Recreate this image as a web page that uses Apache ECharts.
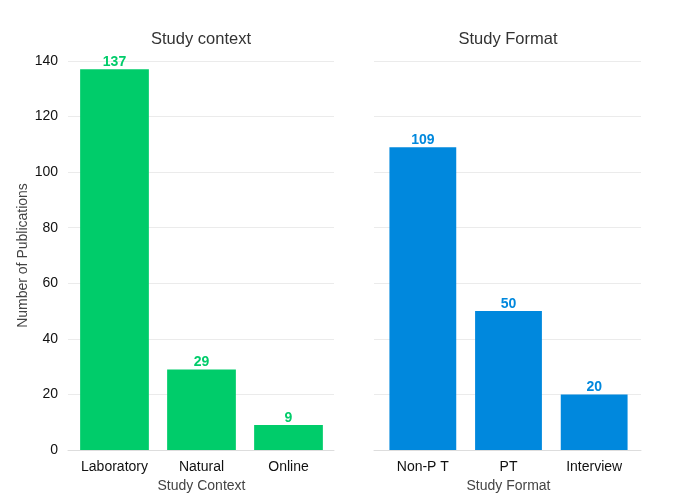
<!DOCTYPE html>
<html>
<head>
  <meta charset="utf-8">
  <title>Study context / format</title>
  <script src="https://cdn.jsdelivr.net/npm/echarts@6/dist/echarts.min.js"></script>
</head>
<body style="margin:0;background:#fff;">
<div id="chartmain" style="width:675px; height:500px;"></div>
<script type="text/javascript">
  // data
  var contextCats = ['Laboratory', 'Natural', 'Online'];
  var contextVals = [137, 29, 9];
  var formatCats = ['Non-P T', 'PT', 'Interview'];
  var formatVals = [109, 50, 20];
  var yTicks = [0, 20, 40, 60, 80, 100, 120, 140];

  var green = '#00CC6A';
  var blue = '#0088DD';
  var font = 'Liberation Sans, Arial, sans-serif';

  function yRange(idx) {
    return {
      gridIndex: idx,
      min: yTicks[0],
      max: yTicks[yTicks.length - 1],
      interval: yTicks[1] - yTicks[0]
    };
  }

  // grids 0/1 hold the bars, grids 2/3 only draw the background lines
  function barXAxis(idx, cats, name) {
    return {
      type: 'category',
      gridIndex: idx,
      data: cats,
      name: name,
      nameLocation: 'middle',
      nameGap: 26,
      nameTextStyle: { color: '#444', fontSize: 14, fontFamily: font },
      axisLine: { show: false },
      axisTick: { show: false },
      axisLabel: { interval: 0, color: '#111', fontSize: 14, fontFamily: font, margin: 10 }
    };
  }

  function bgXAxis(idx) {
    return {
      type: 'value',
      gridIndex: idx,
      min: 0,
      max: 1,
      axisLine: { show: true, onZero: false, lineStyle: { color: '#dddddd' } },
      axisTick: { show: false },
      axisLabel: { show: false },
      splitLine: { show: false }
    };
  }

  function barYAxis(idx, showLabels) {
    return Object.assign(yRange(idx), {
      type: 'value',
      name: showLabels ? 'Number of Publications' : '',
      nameLocation: 'middle',
      nameGap: 41,
      nameTextStyle: { color: '#444', fontSize: 14, fontFamily: font },
      axisLine: { show: false },
      axisTick: { show: false },
      axisLabel: { show: showLabels, color: '#111', fontSize: 14, fontFamily: font, margin: 13 },
      splitLine: { show: false }
    });
  }

  function bgYAxis(idx) {
    return Object.assign(yRange(idx), {
      type: 'value',
      axisLine: { show: false },
      axisTick: { show: false },
      axisLabel: { show: false },
      splitLine: { lineStyle: { color: '#ebebeb' } }
    });
  }

  function barLabel(color) {
    return {
      show: true,
      position: 'top',
      distance: 0,
      color: color,
      fontWeight: 'bold',
      fontSize: 14,
      fontFamily: font
    };
  }

  var option = {
    animation: false,
    title: [{
      text: 'Study context',
      left: 196,
      top: 26,
      textAlign: 'center',
      textStyle: { fontSize: 16.5, fontWeight: 'normal', color: '#333', fontFamily: font }
    }, {
      text: 'Study Format',
      left: 503,
      top: 26,
      textAlign: 'center',
      textStyle: { fontSize: 16.5, fontWeight: 'normal', color: '#333', fontFamily: font }
    }],
    grid: [
      { left: 71, right: 343, top: 61, bottom: 50 },
      { left: 380, right: 38, top: 61, bottom: 50 },
      { left: 68, right: 341, top: 61, bottom: 50 },
      { left: 374, right: 34, top: 61, bottom: 50 }
    ],
    xAxis: [
      barXAxis(0, contextCats, 'Study Context'),
      barXAxis(1, formatCats, 'Study Format'),
      bgXAxis(2),
      bgXAxis(3)
    ],
    yAxis: [
      barYAxis(0, true),
      barYAxis(1, false),
      bgYAxis(2),
      bgYAxis(3)
    ],
    series: [
      {
        name: 'Study context',
        type: 'bar',
        xAxisIndex: 0,
        yAxisIndex: 0,
        barCategoryGap: '21%',
        z: 3,
        itemStyle: { color: green },
        label: barLabel(green),
        data: contextVals
      },
      {
        name: 'Study Format',
        type: 'bar',
        xAxisIndex: 1,
        yAxisIndex: 1,
        barCategoryGap: '22%',
        z: 3,
        itemStyle: { color: blue },
        label: barLabel(blue),
        data: formatVals
      }
    ]
  };

  var myChart = echarts.init(document.getElementById('chartmain'));
  myChart.setOption(option);
</script>
</body>
</html>
